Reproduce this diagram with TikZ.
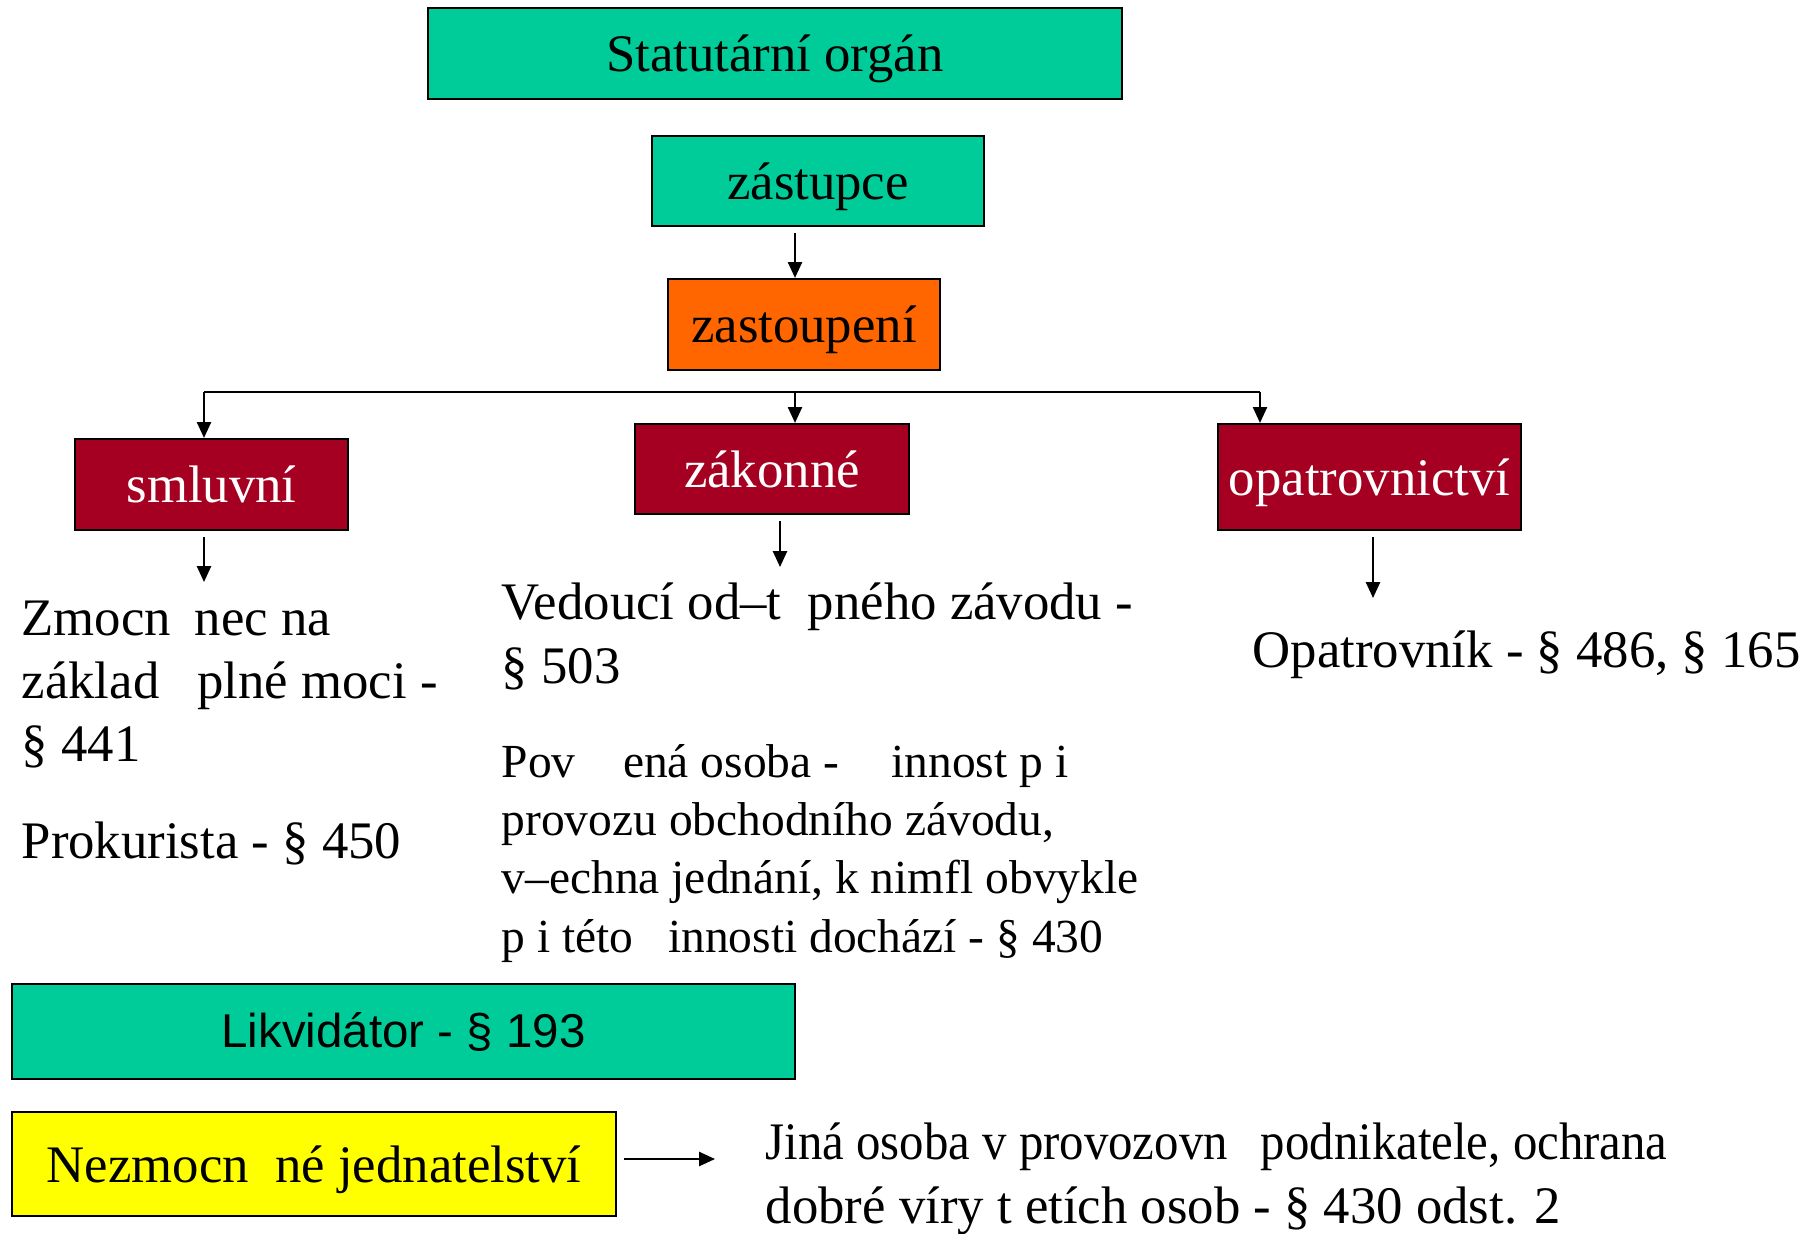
\documentclass[tikz,border=0pt]{standalone}
\usepackage{fontspec}
\setmainfont{Liberation Serif}
\setsansfont{Liberation Sans}
\usetikzlibrary{arrows.meta,calc}
\definecolor{teal1}{RGB}{0,204,153}
\definecolor{orng}{RGB}{255,102,0}
\definecolor{dred}{RGB}{165,0,33}
\definecolor{yel}{RGB}{255,255,0}
\newcommand\gp[1]{\hspace*{#1em}}
\begin{document}
\begin{tikzpicture}[x=0.01cm,y=-0.01cm,
  box/.style={draw=black,line width=0.6pt,inner sep=0pt,text depth=0pt,font=\fontsize{15}{18}\selectfont},
  redbox/.style={box,fill=dred,text=white},
  arr/.style={line width=0.55pt,-{Triangle[length=4.5pt,width=4pt]}},
  ln/.style={line width=0.55pt},
  txt/.style={anchor=base west,inner sep=0pt,align=left,font=\fontsize{15}{17.9}\selectfont},
  txts/.style={anchor=base west,inner sep=0pt,align=left,font=\fontsize{13.5}{16.5}\selectfont}]
\useasboundingbox (0,0) rectangle (1818,1233);
% boxes
\node[box,fill=teal1,minimum width=6.94cm,minimum height=0.91cm] (so) at (775,53.5) {Statutární orgán};
\node[box,fill=teal1,minimum width=3.32cm,minimum height=0.90cm] (zastupce) at (818,181) {zástupce};
\node[box,fill=orng,minimum width=2.72cm,minimum height=0.91cm] (zastoupeni) at (804,324.5) {zastoupení};
\node[redbox,minimum width=2.73cm,minimum height=0.91cm] (smluvni) at (211.5,484.5) {smluvní};
\node[redbox,minimum width=2.74cm,minimum height=0.90cm] (zakonne) at (772,469) {zákonné};
\node[redbox,minimum width=3.03cm,minimum height=1.06cm] (opatr) at (1369.5,477) {opatrovnictví};
\node[box,text depth=,fill=teal1,minimum width=7.83cm,minimum height=0.95cm,font=\sffamily\fontsize{13.5}{16}\selectfont] (likv) at (403.5,1031.5) {Likvidátor - § 193};
\node[box,fill=yel,minimum width=6.04cm,minimum height=1.04cm] (nezm) at (314,1164) {Nezmocn\gp{0.5}né jednatelství};
% texts (base anchor = last line baseline)
\node[txt] (t1) at (21,761) {Zmocn\gp{0.45}nec na\\základ\gp{0.72}plné moci -\\§ 441};
\node[txt] (t2) at (21,858) {Prokurista - § 450};
\node[txt,font=\fontsize{15}{18.2}\selectfont] (t3) at (501,683) {Vedoucí od–t\gp{0.5}pného závodu -\\§ 503};
\node[txts] (t4) at (501,952) {Pov\gp{1.0}ená osoba -\gp{1.1}innost p i\\provozu obchodního závodu,\\v–echna jednání, k nimfl obvykle\\p i této\gp{0.73}innosti dochází - § 430};
\node[txt] (t5) at (1252,667) {Opatrovník - § 486, § 165};
\node[txt,font=\fontsize{15}{18.2}\selectfont] (t6) at (765,1223) {\scalebox{0.925}[1]{Jiná osoba v provozovn\gp{0.68}podnikatele, ochrana}\\dobré víry t etích osob - § 430 odst. 2};
% connectors
\coordinate (a1) at (795,233);
\draw[arr] (a1) -- (a1 |- zastoupeni.north);
\coordinate (busL) at (204,392);
\coordinate (busM) at (795,392);
\coordinate (busR) at (1260,392);
\draw[ln] (busL) -- (busR);
\draw[arr] (busL) -- (busL |- smluvni.north);
\draw[arr] (busM) -- (busM |- zakonne.north);
\draw[arr] (busR) -- (busR |- opatr.north);
\coordinate (s1) at (204,537);
\coordinate (s2) at (204,582);
\draw[arr] (s1) -- (s2);
\coordinate (z1) at (780,521);
\coordinate (z2) at (780,567);
\draw[arr] (z1) -- (z2);
\coordinate (o1) at (1373,537);
\coordinate (o2) at (1373,598);
\draw[arr] (o1) -- (o2);
\coordinate (n1) at ($(nezm.east)+(7,-5)$);
\coordinate (n2) at (715,1159);
\draw[arr] (n1) -- (n2);
\end{tikzpicture}
\end{document}
